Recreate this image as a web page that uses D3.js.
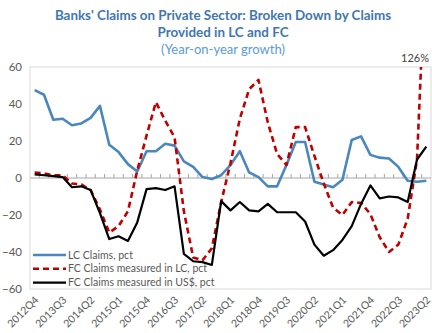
<!DOCTYPE html>
<html>
<head>
<meta charset="utf-8">
<script src="https://cdn.jsdelivr.net/npm/d3@7"></script>
<style>
  html, body { margin: 0; padding: 0; background: #fff; }
  svg { display: block; }
</style>
</head>
<body>
<svg id="chart" width="432" height="333"></svg>
<script>
// Quarterly periods
const quarters = [
  "2012Q4","2013Q1","2013Q2","2013Q3","2013Q4","2014Q1","2014Q2","2014Q3","2014Q4",
  "2015Q1","2015Q2","2015Q3","2015Q4","2016Q1","2016Q2","2016Q3","2016Q4",
  "2017Q1","2017Q2","2017Q3","2017Q4","2018Q1","2018Q2","2018Q3","2018Q4",
  "2019Q1","2019Q2","2019Q3","2019Q4","2020Q1","2020Q2","2020Q3","2020Q4",
  "2021Q1","2021Q2","2021Q3","2021Q4","2022Q1","2022Q2","2022Q3","2022Q4",
  "2023Q1","2023Q2"
];

// Year-on-year growth, percent
const lcClaims = [
  47.5, 45, 31.5, 32, 28.5, 29.5, 32.5, 39, 18, 14, 7.5, 3.5, 14.5, 14.5, 18.5, 17.5, 9,
  6, 0.5, -0.5, 1.5, 7, 14.5, 3, 0.5, -4.5, -4.5, 7, 19.5, 19.5, -2, -3.5, -5,
  -1, 20.5, 22.5, 12.5, 11, 10.5, 6, -1.5, -2, -1.5
];
const fcClaimsLC = [
  3, 2.5, 1.5, 1.5, -3, -3.5, -6.5, -17, -29.5, -26, -18, 4, 23, 41, 31, 22, -18,
  -43, -44.5, -38, -13, 8, 32, 48, 53, 30, 13, 7, 27.5, 27.5, 12, -3, -16,
  -20, -13, -13.5, -19.5, -32, -40, -36, -22, 10, 126
];
const fcClaimsUSD = [
  2, 1.5, 1, 0.5, -5, -4.5, -6.5, -19, -33, -31.5, -34, -24, -6, -5.5, -6.5, -4.5, -41,
  -45, -45.5, -47, -12.5, -17.5, -13, -17.5, -18, -14, -18.5, -18.5, -18.5, -23.5, -36, -42, -39,
  -33.5, -26, -14, -4, -11, -10, -10.5, -13, 10, 17
];

const yTicks = [-60, -40, -20, 0, 20, 40, 60];
const seriesNames = [
  "LC Claims, pct",
  "FC Claims measured in LC, pct",
  "FC Claims measured in US$, pct"
];

const svg = d3.select("#chart");
const plot = { left: 30, right: 431, top: 67, bottom: 289 };

const x = d3.scaleBand().domain(quarters).range([plot.left, plot.right]).padding(0);
const xc = q => x(q) + x.bandwidth() / 2;
const y = d3.scaleLinear().domain([-60, 60]).range([plot.bottom, plot.top]);

// Titles
const titleFont = "Lato, 'Open Sans', sans-serif";
svg.append("text").attr("x", 223).attr("y", 20).attr("text-anchor", "middle")
  .attr("font-family", titleFont).attr("font-weight", "bold").attr("font-size", 13.4)
  .attr("fill", "#3f77b0")
  .text("Banks' Claims on Private Sector: Broken Down by Claims");
svg.append("text").attr("x", 223).attr("y", 37).attr("text-anchor", "middle")
  .attr("font-family", titleFont).attr("font-weight", "bold").attr("font-size", 13.4)
  .attr("fill", "#3f77b0")
  .text("Provided in LC and FC");
svg.append("text").attr("x", 223).attr("y", 54).attr("text-anchor", "middle")
  .attr("font-family", titleFont).attr("font-size", 13)
  .attr("fill", "#5b9bd5")
  .text("(Year-on-year growth)");

// Plot frame
svg.append("rect")
  .attr("x", plot.left).attr("y", plot.top)
  .attr("width", plot.right - plot.left).attr("height", plot.bottom - plot.top)
  .attr("fill", "none").attr("stroke", "#d9d9d9").attr("stroke-width", 1);

// Y tick labels
const yAxis = svg.append("g").attr("transform", `translate(${plot.left - 8},0)`)
  .call(d3.axisLeft(y).tickValues(yTicks).tickSize(0).tickPadding(0));
yAxis.select(".domain").remove();
yAxis.selectAll("text")
  .attr("font-family", titleFont).attr("font-size", 11.5).attr("fill", "#595959");

// Zero line with category ticks
const zeroAxis = svg.append("g").attr("transform", `translate(0,${y(0)})`);
zeroAxis.append("line")
  .attr("x1", plot.left).attr("x2", plot.right)
  .attr("stroke", "#a6a6a6").attr("stroke-width", 1);
zeroAxis.selectAll("line.tick")
  .data(quarters.slice(1))
  .join("line").attr("class", "tick")
  .attr("x1", d => x(d)).attr("x2", d => x(d))
  .attr("y1", 0).attr("y2", -4)
  .attr("stroke", "#a6a6a6").attr("stroke-width", 1);

// X labels along the bottom, every third quarter
svg.append("g").selectAll("text")
  .data(quarters.filter((q, i) => i % 3 === 0))
  .join("text")
  .attr("transform", d => `translate(${xc(d) + 2},${plot.bottom + 9}) rotate(-45)`)
  .attr("text-anchor", "end")
  .attr("dy", "0.35em")
  .attr("font-family", titleFont).attr("font-size", 10.5).attr("fill", "#595959")
  .text(d => d);

// Series lines, clipped to the plot area
svg.append("clipPath").attr("id", "plot-clip")
  .append("rect")
  .attr("x", plot.left).attr("y", plot.top)
  .attr("width", plot.right - plot.left).attr("height", plot.bottom - plot.top);

const lines = svg.append("g").attr("clip-path", "url(#plot-clip)");
const lineGen = vals => d3.line()
  .x((d, i) => xc(quarters[i]))
  .y(d => y(d))(vals);

const series = [
  { values: lcClaims, color: "#4a87bd", width: 2.6, dash: null },
  { values: fcClaimsLC, color: "#c00000", width: 2.6, dash: "6,4" },
  { values: fcClaimsUSD, color: "#000000", width: 2.2, dash: null }
];

series.forEach(s => {
  lines.append("path")
    .attr("d", lineGen(s.values))
    .attr("fill", "none")
    .attr("stroke", s.color)
    .attr("stroke-width", s.width)
    .attr("stroke-linejoin", "round")
    .attr("stroke-dasharray", s.dash);
});

// Off-scale value label for the last quarter
svg.append("text")
  .attr("x", 429).attr("y", 62)
  .attr("text-anchor", "end")
  .attr("font-family", titleFont).attr("font-size", 11).attr("fill", "#404040")
  .text(d3.format(".0f")(fcClaimsLC[fcClaimsLC.length - 1]) + "%");

// Legend
const legend = svg.append("g").attr("transform", "translate(31,255)");
seriesNames.forEach((name, i) => {
  const s = series[i];
  const g = legend.append("g").attr("transform", `translate(0,${i * 13.8})`);
  g.append("line")
    .attr("x1", 2).attr("x2", 35).attr("y1", 0).attr("y2", 0)
    .attr("stroke", s.color).attr("stroke-width", s.width)
    .attr("stroke-dasharray", s.dash);
  g.append("text")
    .attr("x", 37).attr("y", 0).attr("dy", "0.35em")
    .attr("font-family", titleFont).attr("font-size", 10.5).attr("fill", "#595959")
    .text(name);
});
</script>
</body>
</html>
